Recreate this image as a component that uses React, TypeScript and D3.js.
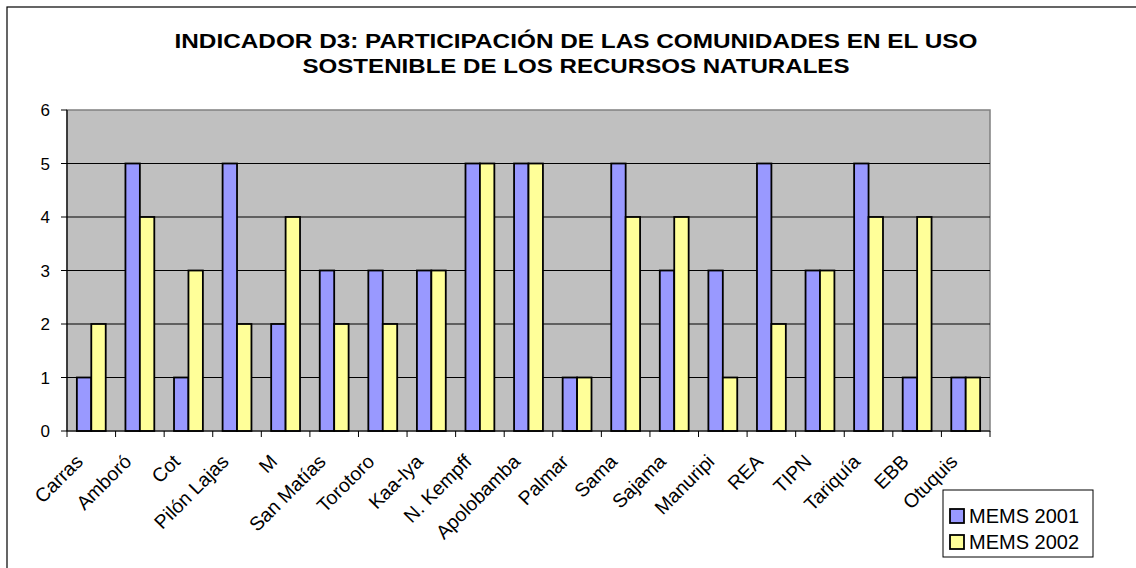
import React from 'react';
import * as d3 from 'd3';

// Categorías (áreas protegidas) y valores por año
const categories = [
  'Carrasco', 'Amboró', 'Cotapata', 'Pilón Lajas', 'Madidi', 'San Matías', 'Torotoro',
  'Kaa-Iya', 'N. Kempff', 'Apolobamba', 'Palmar', 'Sama', 'Sajama', 'Manuripi',
  'REA', 'TIPNIS', 'Tariquía', 'EBB', 'Otuquis',
];
// etiquetas tal como se ven (Excel las recorta cuando se solapan)
const tickLabels = [
  'Carras', 'Amboró', 'Cot', 'Pilón Lajas', 'M', 'San Matías', 'Torotoro',
  'Kaa-Iya', 'N. Kempff', 'Apolobamba', 'Palmar', 'Sama', 'Sajama', 'Manuripi',
  'REA', 'TIPN', 'Tariquía', 'EBB', 'Otuquis',
];
const mems2001 = [1, 5, 1, 5, 2, 3, 3, 3, 5, 5, 1, 5, 3, 3, 5, 3, 5, 1, 1];
const mems2002 = [2, 4, 3, 2, 4, 2, 2, 3, 5, 5, 1, 4, 4, 1, 2, 3, 4, 4, 1];
const seriesNames = ['MEMS 2001', 'MEMS 2002'];
const seriesColors = ['#9999FF', '#FFFF99'];
const yTicks = [0, 1, 2, 3, 4, 5, 6];
const titleLines = [
  'INDICADOR D3: PARTICIPACIÓN DE LAS COMUNIDADES EN EL USO',
  'SOSTENIBLE DE LOS RECURSOS NATURALES',
];

const W = 1136;
const H = 568;
const font = 'Arial, "Liberation Sans", sans-serif';

const App = () => {
  const plot = { left: 67, right: 990, top: 110, bottom: 431 };

  const x0 = d3.scaleBand<string>()
    .domain(categories)
    .range([plot.left, plot.right])
    .padding(0);

  const barW = x0.bandwidth() * 0.297;
  const x1 = d3.scaleBand<string>()
    .domain(seriesNames)
    .range([0, barW * 2]);

  const y = d3.scaleLinear()
    .domain([0, 6])
    .range([plot.bottom, plot.top]);

  const series = [mems2001, mems2002];
  // the original chart is stretched sideways, so the title is fitted to its measured width
  const titleWidths = [803, 547];

  return (
    <svg width={W} height={H} style={{ position: 'absolute', left: 0, top: 0, background: '#fff' }}>
      <rect x={7} y={7} width={W} height={H} fill="#fff" stroke="#000" strokeWidth={1.2} />

      {/* title */}
      {titleLines.map((t, i) => (
        <text key={i} x={576} y={48 + i * 25} textAnchor="middle" fontFamily={font} fontWeight="bold"
          fontSize={21} textLength={titleWidths[i]} lengthAdjust="spacingAndGlyphs">{t}</text>
      ))}

      {/* plot area */}
      <rect x={plot.left} y={plot.top} width={plot.right - plot.left} height={plot.bottom - plot.top}
        fill="#C0C0C0" stroke="#808080" strokeWidth={1.5} />

      {/* gridlines */}
      {yTicks.filter(t => t > 0 && t < 6).map(t => (
        <line key={t} x1={plot.left} x2={plot.right} y1={y(t)} y2={y(t)} stroke="#000" strokeWidth={1} />
      ))}

      {/* bars */}
      {series.map((vals, si) => (
        <g key={si}>
          {vals.map((v, i) => {
            const gx = x0(categories[i])! + x0.bandwidth() / 2 - barW;
            return (
              <rect key={i}
                x={gx + x1(seriesNames[si])!}
                y={y(v)}
                width={x1.bandwidth()}
                height={y(0) - y(v)}
                fill={seriesColors[si]}
                stroke="#000"
                strokeWidth={1.8} />
            );
          })}
        </g>
      ))}

      {/* axes */}
      <line x1={plot.left} x2={plot.left} y1={plot.top} y2={plot.bottom} stroke="#000" strokeWidth={1.2} />
      <line x1={plot.left} x2={plot.right} y1={plot.bottom} y2={plot.bottom} stroke="#000" strokeWidth={1.2} />
      {yTicks.map(t => (
        <g key={t}>
          <line x1={plot.left - 6} x2={plot.left} y1={y(t)} y2={y(t)} stroke="#000" strokeWidth={1} />
          <text x={50} y={y(t)} dy="0.36em" textAnchor="end" fontFamily={font} fontSize={17}>{t}</text>
        </g>
      ))}
      {[...categories.map(c => x0(c)!), plot.right].map((xv, i) => (
        <line key={i} x1={xv} x2={xv} y1={plot.bottom} y2={plot.bottom + 6} stroke="#000" strokeWidth={1} />
      ))}
      {tickLabels.map((lab, i) => {
        const ax = x0(categories[i])! + x0.bandwidth() / 2 - 12;
        const ay = 458;
        return (
          <text key={i} x={ax} y={ay} dy="0.35em" textAnchor="end" fontFamily={font} fontSize={19.5}
            transform={`rotate(-45,${ax},${ay})`}>{lab}</text>
        );
      })}

      {/* legend */}
      <rect x={943} y={490} width={150} height={67} fill="#fff" stroke="#000" strokeWidth={1} />
      {seriesNames.map((s, i) => (
        <g key={s}>
          <rect x={950} y={509 + i * 26} width={14} height={14} fill={seriesColors[i]} stroke="#000" strokeWidth={1.8} />
          <text x={969} y={516 + i * 26} dy="0.36em" fontFamily={font} fontSize={20}>{s}</text>
        </g>
      ))}
    </svg>
  );
};

export default App;
